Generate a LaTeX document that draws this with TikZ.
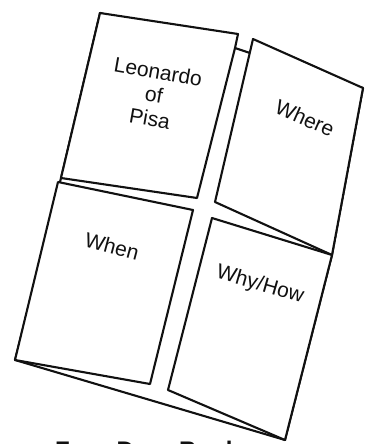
\documentclass[tikz,border=0pt]{standalone}
\usepackage{fontspec}
\setmainfont{Liberation Sans}
\usepackage{xcolor}
\usepackage{tikz}
\definecolor{ink}{HTML}{111111}
\definecolor{paper}{HTML}{FFFFFF}
\tikzset{
  sheet/.style={draw=ink,fill=paper,line width=2.1pt,line join=round},
  door/.style={sheet},
  doorlbl/.style={font=\fontsize{21}{24}\selectfont,text=ink,align=center,inner sep=0pt},
  title/.style={font=\fontsize{24}{28}\selectfont\bfseries,text=ink,inner sep=0pt,anchor=base west},
}
\begin{document}
\begin{tikzpicture}[x=1pt,y=-1pt]
  \useasboundingbox (0,0) rectangle (365,444);
  \clip (0,0) rectangle (365,444);
  % back of the book
  \draw[sheet] (100,13) -- (235,48) -- (250,53) -- (363,88) -- (332,255) -- (285,440) -- (15,360) -- (61,178) -- cycle;
  % the four doors
  \draw[door] (100,13) -- (238,34) -- (235,48) -- (197,198) -- (61,178) -- cycle;
  \draw[door] (253,39) -- (363,88) -- (332,255) -- (215,202) -- cycle;
  \draw[door] (58,182) -- (193,210) -- (150,384) -- (15,360) -- cycle;
  \draw[door] (212,218) -- (332,255) -- (285,440) -- (168,390) -- cycle;
  \node[doorlbl,rotate=-10] (who) at (154,95) {Leonardo\\of\\Pisa};
  \node[doorlbl,rotate=-24] (where) at (305,118) {Where};
  \node[doorlbl,rotate=-15] (when) at (112,246) {When};
  \node[doorlbl,rotate=-16] (why) at (260,285) {Why/How};
  \node[title] (ttl) at (55,458) {Four-Door Book};
\end{tikzpicture}
\end{document}
